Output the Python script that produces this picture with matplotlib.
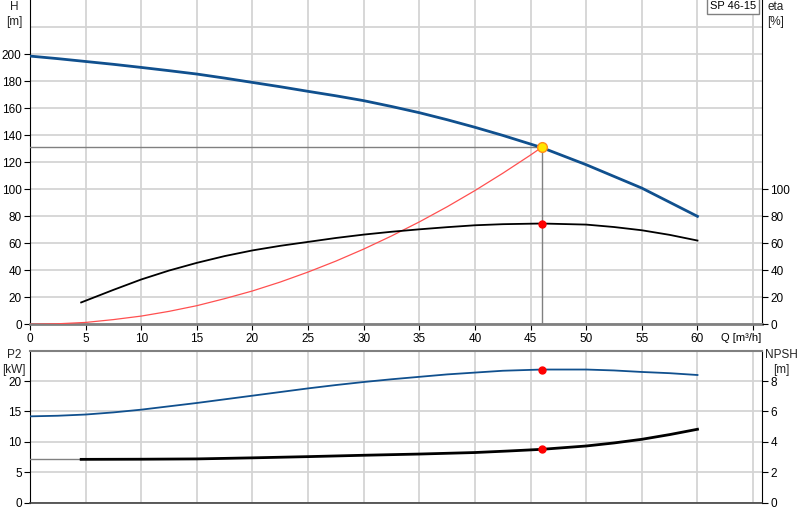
import matplotlib
matplotlib.use('Agg')
import matplotlib.pyplot as plt
import numpy as np

plt.rcParams['font.family'] = ['Liberation Sans', 'DejaVu Sans']
plt.rcParams['font.size'] = 8

# curves, Q in m3/h
q_head = [0, 2.5, 5, 7.5, 10, 12.5, 15, 17.5, 20, 22.5, 25, 27.5, 30, 32.5, 35,
          37.5, 40, 42.5, 46, 50, 55, 60]
head = [198.5, 196.6, 194.5, 192.4, 190.1, 187.7, 185.2, 182.2, 179.0, 175.8, 172.4,
        169.1, 165.5, 161.2, 156.6, 151.4, 145.8, 139.8, 130.8, 118.1, 100.8, 79.9]

q_eta = [4.6, 7.5, 10, 12.5, 15, 17.5, 20, 22.5, 25, 27.5, 30, 32.5, 35, 37.5, 40,
         42.5, 46, 50, 52.5, 55, 57.5, 60]
eta = [16.2, 25.5, 33.2, 39.8, 45.5, 50.5, 54.7, 58.1, 61.0, 63.9, 66.4, 68.5, 70.3,
       71.9, 73.3, 74.1, 74.6, 73.8, 72.0, 69.6, 66.2, 62.0]

q_sys = [0, 2.5, 5, 7.5, 10, 12.5, 15, 17.5, 20, 22.5, 25, 27.5, 30, 32.5, 35,
         37.5, 40, 42.5, 45, 46]
h_sys = [0, 0.4, 1.4, 3.5, 6.1, 9.6, 13.8, 19.0, 24.7, 31.3, 38.7, 46.8, 55.7, 65.4,
         75.8, 87.0, 99.0, 111.8, 125.3, 131.0]

q_p2 = [0, 2.5, 5, 7.5, 10, 12.5, 15, 17.5, 20, 22.5, 25, 27.5, 30, 32.5, 35, 37.5,
        40, 42.5, 46, 50, 52.5, 55, 57.5, 60]
p2 = [14.2, 14.3, 14.5, 14.85, 15.3, 15.85, 16.4, 17.0, 17.6, 18.2, 18.8, 19.35, 19.85,
      20.3, 20.7, 21.1, 21.4, 21.7, 21.9, 21.9, 21.75, 21.5, 21.3, 21.0]

q_npsh = [4.6, 10, 15, 20, 25, 30, 35, 40, 43, 46, 50, 52.5, 55, 57.5, 60]
npsh = [2.85, 2.86, 2.88, 2.95, 3.03, 3.12, 3.2, 3.3, 3.4, 3.51, 3.73, 3.93, 4.17,
        4.48, 4.83]

q_duty = 46.0
h_duty = 131.0
eta_duty = 74.6
p2_duty = 21.9
npsh_duty = 3.51

pump_name = 'SP 46-15'

grid_c = '#d4d4d4'
blue = '#10508e'
lab_c = '#222222'
fs = 8
tfs = 8.5

fig = plt.figure(figsize=(8, 5.2), dpi=100)
ax1 = fig.add_axes([0.0375, 0.3763, 0.915, 0.6237])
ax2 = fig.add_axes([0.0375, 0.0333, 0.915, 0.2923])


def style(ax):
    ax.set_xlim(0, 65.8)
    ax.set_xticks(np.arange(0, 66, 5))
    ax.grid(True, color=grid_c, lw=1.3, zorder=0)
    ax.set_axisbelow(True)
    ax.spines['left'].set_color('black')
    ax.spines['right'].set_color('black')
    ax.tick_params(direction='out', length=4, width=0.8, colors='black',
                   labelsize=tfs, pad=2)


style(ax1)
ax1.set_ylim(0, 240)
ax1.set_yticks(np.arange(0, 201, 20))
ax1.axhline(220, color=grid_c, lw=1.3, zorder=0)
ax1.spines['top'].set_visible(False)
ax1.spines['bottom'].set_color('#808080')
ax1.spines['bottom'].set_linewidth(2)
ax1.set_xticklabels([str(v) for v in range(0, 61, 5)] + [''])

ax1r = ax1.twinx()
ax1r.set_ylim(0, 240)
ax1r.set_yticks(np.arange(0, 101, 20))
ax1r.tick_params(direction='out', length=4, width=0.8, labelsize=tfs, pad=2)
for s in ax1r.spines.values():
    s.set_visible(False)

ax1.plot(q_sys, h_sys, color='#ff5050', lw=0.9, zorder=3)
ax1.plot([0, q_duty], [h_duty, h_duty], color='#808080', lw=1, zorder=3)
ax1.plot([q_duty, q_duty], [0, h_duty], color='#808080', lw=1, zorder=3)
ax1.plot(q_head, head, color=blue, lw=2.0, zorder=4)
ax1.plot(q_eta, eta, color='black', lw=1.3, zorder=4)
ax1.plot(q_duty, eta_duty, 'o', color='red', ms=5, zorder=5)
ax1.plot(q_duty, h_duty, 'o', mfc='#ffe600', mec='#ff8c1a', ms=7, mew=1, zorder=6)

fig.text(14 / 800, 1 - 1 / 520, 'H\n[m]', ha='center', va='top', fontsize=tfs,
         color=lab_c, linespacing=1.3)
fig.text(767 / 800, 1 - 1 / 520, 'eta\n[%]', ha='left', va='top', fontsize=tfs,
         color=lab_c, linespacing=1.3)
ax1.text(0.992, 0.997, pump_name, transform=ax1.transAxes, ha='right', va='top',
         fontsize=fs, bbox=dict(boxstyle='square,pad=0.3', fc='white', ec='#808080', lw=1))
ax1.text(0.944, -0.026, 'Q [m³/h]', transform=ax1.transAxes, ha='left', va='top',
         fontsize=fs)

style(ax2)
ax2.set_ylim(0, 25)
ax2.set_yticks(np.arange(0, 21, 5))
ax2.spines['top'].set_color('#808080')
ax2.spines['top'].set_linewidth(1.5)
ax2.spines['bottom'].set_color('#404040')
ax2.spines['bottom'].set_linewidth(1.2)
ax2.tick_params(axis='x', length=0, labelbottom=False)

ax2r = ax2.twinx()
ax2r.set_ylim(0, 10)
ax2r.set_yticks(np.arange(0, 9, 2))
ax2r.tick_params(direction='out', length=4, width=0.8, labelsize=tfs, pad=2)
for s in ax2r.spines.values():
    s.set_visible(False)

ax2.plot(q_p2, p2, color=blue, lw=1.3, zorder=4)
ax2.plot(q_duty, p2_duty, 'o', color='red', ms=5, zorder=5)
ax2r.plot([0, q_npsh[0]], [npsh[0], npsh[0]], color='#808080', lw=1, zorder=3)
ax2r.plot(q_npsh, npsh, color='black', lw=2, zorder=4)
ax2r.plot(q_duty, npsh_duty, 'o', color='red', ms=5, zorder=5)
ax2r.set_xlim(0, 65.8)

fig.text(14 / 800, 1 - 349 / 520, 'P2\n[kW]', ha='center', va='top', fontsize=tfs,
         color=lab_c, linespacing=1.3)
fig.text(781 / 800, 1 - 349 / 520, 'NPSH\n[m]', ha='center', va='top', fontsize=tfs,
         color=lab_c, linespacing=1.3)

fig.savefig('out.png', dpi=100)
